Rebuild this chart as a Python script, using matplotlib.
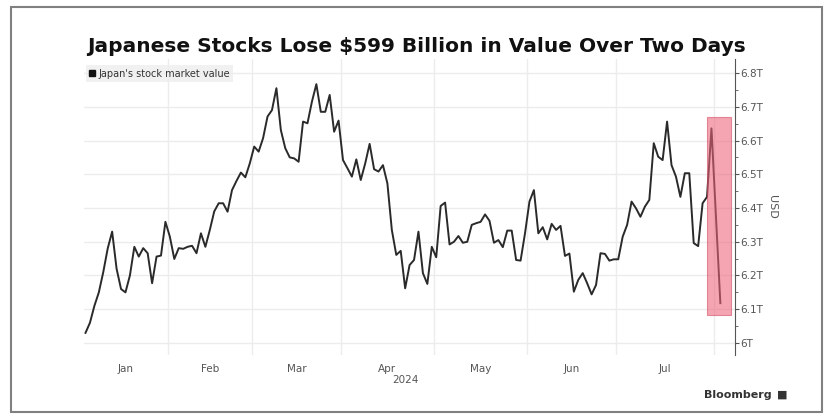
import numpy as np
import pandas as pd
import matplotlib
matplotlib.use('Agg')
import matplotlib.pyplot as plt
from matplotlib.lines import Line2D
from matplotlib.patches import Rectangle
from matplotlib.ticker import MultipleLocator, FuncFormatter

# Tokyo trading days, Jan 4 - Aug 2 2024 (exchange holidays removed)
jp_holidays = ['2024-01-08', '2024-02-12', '2024-02-23', '2024-03-20',
               '2024-04-29', '2024-05-03', '2024-05-06', '2024-07-15']
dates = pd.bdate_range('2024-01-04', '2024-08-02', freq='C', holidays=jp_holidays)

# Japan's stock market value, trillion USD
market_value = [
    6.03, 6.06, 6.11, 6.15, 6.21, 6.28, 6.33, 6.22, 6.16, 6.15,
    6.20, 6.285, 6.256, 6.281, 6.266, 6.177, 6.256, 6.259, 6.359, 6.315,
    6.249, 6.281, 6.279, 6.285, 6.288, 6.266, 6.325, 6.285, 6.335, 6.39,
    6.414, 6.414, 6.389, 6.453, 6.48, 6.505, 6.491, 6.532, 6.582, 6.567,
    6.607, 6.671, 6.690, 6.755, 6.631, 6.577, 6.550, 6.547, 6.537, 6.656,
    6.651, 6.715, 6.767, 6.685, 6.685, 6.735, 6.626, 6.659, 6.542, 6.518,
    6.493, 6.544, 6.483, 6.532, 6.590, 6.515, 6.508, 6.527, 6.473, 6.335,
    6.261, 6.273, 6.162, 6.231, 6.246, 6.330, 6.207, 6.175, 6.285, 6.254,
    6.406, 6.416, 6.292, 6.300, 6.317, 6.297, 6.300, 6.350, 6.355, 6.359,
    6.381, 6.362, 6.297, 6.305, 6.284, 6.333, 6.333, 6.246, 6.244, 6.325,
    6.419, 6.453, 6.325, 6.343, 6.307, 6.353, 6.335, 6.347, 6.258, 6.265,
    6.152, 6.187, 6.207, 6.177, 6.144, 6.172, 6.266, 6.264, 6.244, 6.248,
    6.248, 6.315, 6.350, 6.419, 6.399, 6.374, 6.404, 6.424, 6.592, 6.552,
    6.542, 6.656, 6.527, 6.493, 6.433, 6.503, 6.503, 6.296, 6.287, 6.414,
    6.433, 6.636, 6.38, 6.118,
]

title = 'Japanese Stocks Lose $599 Billion in Value Over Two Days'
series_name = "Japan's stock market value"

x = np.arange(len(dates))
y = np.array(market_value)

fig = plt.figure(figsize=(8.32, 4.19), dpi=100)
fig.patch.set_facecolor('white')
ax = fig.add_axes([84 / 832, 1 - 355 / 419, (735 - 84) / 832, (355 - 59) / 419])

x_left, x_right = -0.34, 146.3
ax.set_xlim(x_left, x_right)
ax.set_ylim(5.9644, 6.8415)

grid_col = '#ececec'
for v in np.arange(6.0, 6.81, 0.1):
    ax.axhline(v, color=grid_col, lw=1.0, zorder=0)

# month boundaries sit half a day before each month's first session
months = dates.to_period('M')
starts = [0] + [i for i in range(1, len(dates)) if months[i] != months[i - 1]]
bounds = [s - 0.5 for s in starts[1:]]
for b in bounds:
    ax.axvline(b, color=grid_col, lw=1.0, zorder=0)

edges = [x_left] + bounds + [x_right]
for k, s in enumerate(starts):
    lo, hi = edges[k], edges[k + 1]
    if hi - lo < 10:
        continue
    ax.text((lo + hi) / 2, -0.03, dates[s].strftime('%b'), transform=ax.get_xaxis_transform(),
            ha='center', va='top', fontsize=7.5, color='#555555')
ax.text((edges[3] + edges[4]) / 2 + 4, -0.068, '2024', transform=ax.get_xaxis_transform(),
        ha='center', va='top', fontsize=7.5, color='#555555')

ax.plot(x, y, color='#2a2a2a', lw=1.4, zorder=3)

# the two-day slide
last = len(dates) - 1
box = Rectangle((last - 3.1, 6.083), 5.4, 6.67 - 6.083, facecolor='#ed647a', alpha=0.58,
                edgecolor='#d04a60', lw=0.8, zorder=4)
ax.add_patch(box)

for side in ['top', 'left', 'bottom']:
    ax.spines[side].set_visible(False)
ax.spines['right'].set_color('#555555')
ax.spines['right'].set_linewidth(0.8)
ax.set_xticks([])
ax.yaxis.tick_right()
ax.yaxis.set_major_locator(MultipleLocator(0.1))
ax.yaxis.set_minor_locator(MultipleLocator(0.05))
ax.yaxis.set_major_formatter(FuncFormatter(lambda v, p: f'{v:g}T'))
ax.tick_params(axis='y', which='major', length=3, width=0.8, color='#555555',
               labelsize=7.5, labelcolor='#555555', pad=1)
ax.tick_params(axis='y', which='minor', length=2, width=0.6, color='#555555')
ax.set_yticks(np.round(np.arange(6.0, 6.81, 0.1), 1))
ax.yaxis.set_label_position('right')
ax.set_ylabel('USD', rotation=270, fontsize=8, color='#555555', labelpad=10)

handle = Line2D([], [], marker='s', color='none', markerfacecolor='#111111',
                markeredgecolor='#111111', markersize=4)
leg = ax.legend([handle], [series_name], loc='upper left', bbox_to_anchor=(0.0, 0.985),
                fontsize=7, frameon=True, fancybox=False, handlelength=0.6,
                handletextpad=0.3, borderpad=0.35, borderaxespad=0.2)
leg.get_frame().set_facecolor('#eeeeee')
leg.get_frame().set_edgecolor('none')
for t in leg.get_texts():
    t.set_color('#333333')

fig.text(87 / 832, 1 - 46 / 419, title, fontsize=14.5, fontweight='bold',
         color='#111111', ha='left', va='center')

fig.text(772 / 832, 1 - 395 / 419, 'Bloomberg', fontsize=8, fontweight='bold',
         color='#333333', ha='right', va='center')
fig.text(777 / 832, 1 - 395 / 419, '\u25a0', fontsize=8, color='#333333',
         ha='left', va='center')

fig.add_artist(Rectangle((11 / 832, 1 - 412 / 419), (822 - 11) / 832, (412 - 7) / 419,
                         transform=fig.transFigure, fill=False, edgecolor='#808080', lw=1.5))

fig.savefig('out.png', dpi=100)
